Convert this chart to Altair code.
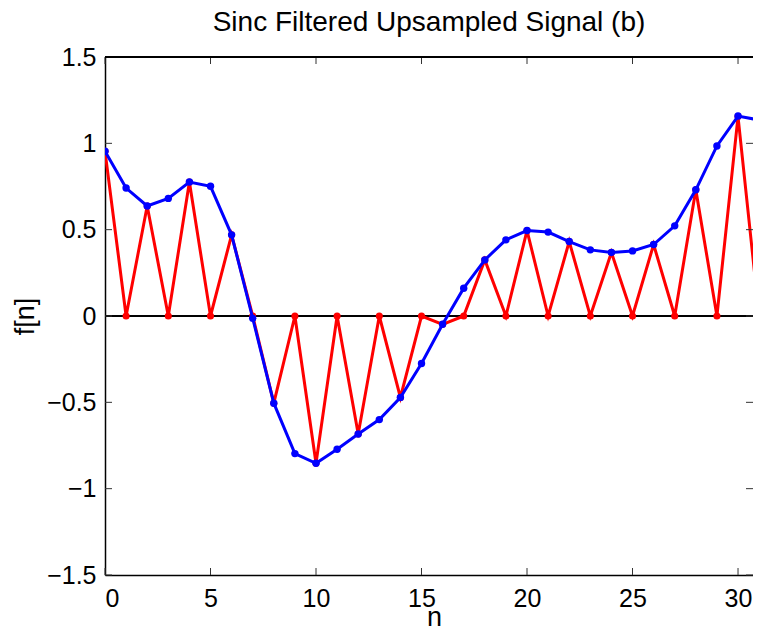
import altair as alt
import pandas as pd

# ---- data ----
n_vals = list(range(32))
upsampled = [0.954, 0, 0.637, 0, 0.776, 0, 0.470, 0, -0.505, 0, -0.853, 0,
             -0.683, 0, -0.472, 0, -0.048, 0, 0.325, 0, 0.495, 0, 0.431, 0,
             0.368, 0, 0.414, 0, 0.731, 0, 1.155, 0]
filtered = [0.954, 0.741, 0.637, 0.681, 0.776, 0.751, 0.470, -0.013, -0.505,
            -0.797, -0.853, -0.772, -0.683, -0.600, -0.472, -0.275, -0.048,
            0.161, 0.325, 0.441, 0.495, 0.486, 0.431, 0.383, 0.368, 0.377,
            0.414, 0.522, 0.731, 0.985, 1.158, 1.135]
x_ticks = [0, 5, 10, 15, 20, 25, 30]
y_ticks = [-1.5, -1, -0.5, 0, 0.5, 1, 1.5]

W, H = 648, 518
FONT = "Liberation Sans"
X_DOMAIN = [0, 30.71]
Y_DOMAIN = [-1.5, 1.5]

df_red = pd.DataFrame({"n": n_vals, "f": upsampled})
df_blue = pd.DataFrame({"n": n_vals, "f": filtered})
df_xt = pd.DataFrame({"t": x_ticks})
df_yt = pd.DataFrame({"t": y_ticks})

xscale = alt.Scale(domain=X_DOMAIN, nice=False, zero=False)
yscale = alt.Scale(domain=Y_DOMAIN, nice=False, zero=False)

x_enc = alt.X(
    "n:Q", scale=xscale, title="n",
    axis=alt.Axis(values=x_ticks, format="d", ticks=False, tickSize=0,
                  grid=False, labelPadding=11, labelFontSize=25,
                  labelFont=FONT, labelColor="black", domainColor="black",
                  domainWidth=1.5, titleFont=FONT, titleFontSize=27,
                  titleFontWeight="normal", titleColor="black",
                  titleBaseline="alphabetic", titleY=50, titleX=329,
                  titleAnchor="middle", titleAlign="center"),
)
y_enc = alt.Y(
    "f:Q", scale=yscale, title="f[n]",
    axis=alt.Axis(values=y_ticks, format="~g", ticks=False, tickSize=0,
                  grid=False, labelPadding=9, labelFontSize=25,
                  labelFont=FONT, labelColor="black", domainColor="black",
                  domainWidth=1.5, titleFont=FONT, titleFontSize=27,
                  titleFontWeight="normal", titleColor="black",
                  titleBaseline="alphabetic", titleX=-72, titleY=H / 2,
                  titleAngle=270, titleAlign="center"),
)

zero_line = alt.Chart(df_xt).mark_rule(color="black", strokeWidth=1).encode(
    y=alt.Y(datum=0, scale=yscale), x=alt.value(0), x2=alt.value(W)
)

red = alt.Chart(df_red).mark_line(
    color="#FF0000", strokeWidth=3, clip=True,
    point=alt.OverlayMarkDef(color="#FF0000", filled=True, size=50, opacity=1),
).encode(x=x_enc, y=y_enc)

blue = alt.Chart(df_blue).mark_line(
    color="#0000FF", strokeWidth=3, clip=True,
    point=alt.OverlayMarkDef(color="#0000FF", filled=True, size=55, opacity=1),
).encode(x=alt.X("n:Q", scale=xscale), y=alt.Y("f:Q", scale=yscale))

tick_color = "#333333"
xt_bottom = alt.Chart(df_xt).mark_rule(color=tick_color, strokeWidth=1).encode(
    x=alt.X("t:Q", scale=xscale), y=alt.value(H - 7), y2=alt.value(H))
xt_top = alt.Chart(df_xt).mark_rule(color=tick_color, strokeWidth=1).encode(
    x=alt.X("t:Q", scale=xscale), y=alt.value(0), y2=alt.value(7))
yt_left = alt.Chart(df_yt).mark_rule(color=tick_color, strokeWidth=1).encode(
    y=alt.Y("t:Q", scale=yscale), x=alt.value(0), x2=alt.value(7))
yt_right = alt.Chart(df_yt).mark_rule(color=tick_color, strokeWidth=1).encode(
    y=alt.Y("t:Q", scale=yscale), x=alt.value(W - 7), x2=alt.value(W))

top_border = alt.Chart(df_xt).mark_rule(color="black", strokeWidth=1.5).encode(
    y=alt.value(0), x=alt.value(0), x2=alt.value(W)
)

chart = alt.layer(
    zero_line, red, blue, xt_bottom, xt_top, yt_left, yt_right, top_border
).properties(
    width=W, height=H,
    title=alt.TitleParams(
        "Sinc Filtered Upsampled Signal (b)", font=FONT, fontSize=28,
        fontWeight="normal", color="black", anchor="middle", frame="group",
        baseline="alphabetic", offset=-14,
    ),
    autosize=alt.AutoSizeParams(type="none"),
    padding={"left": 97, "top": 49, "right": 0, "bottom": 55},
).configure_view(stroke=None).configure(background="white")

chart.save("out.html", embed_options={"renderer": "svg", "actions": False})
